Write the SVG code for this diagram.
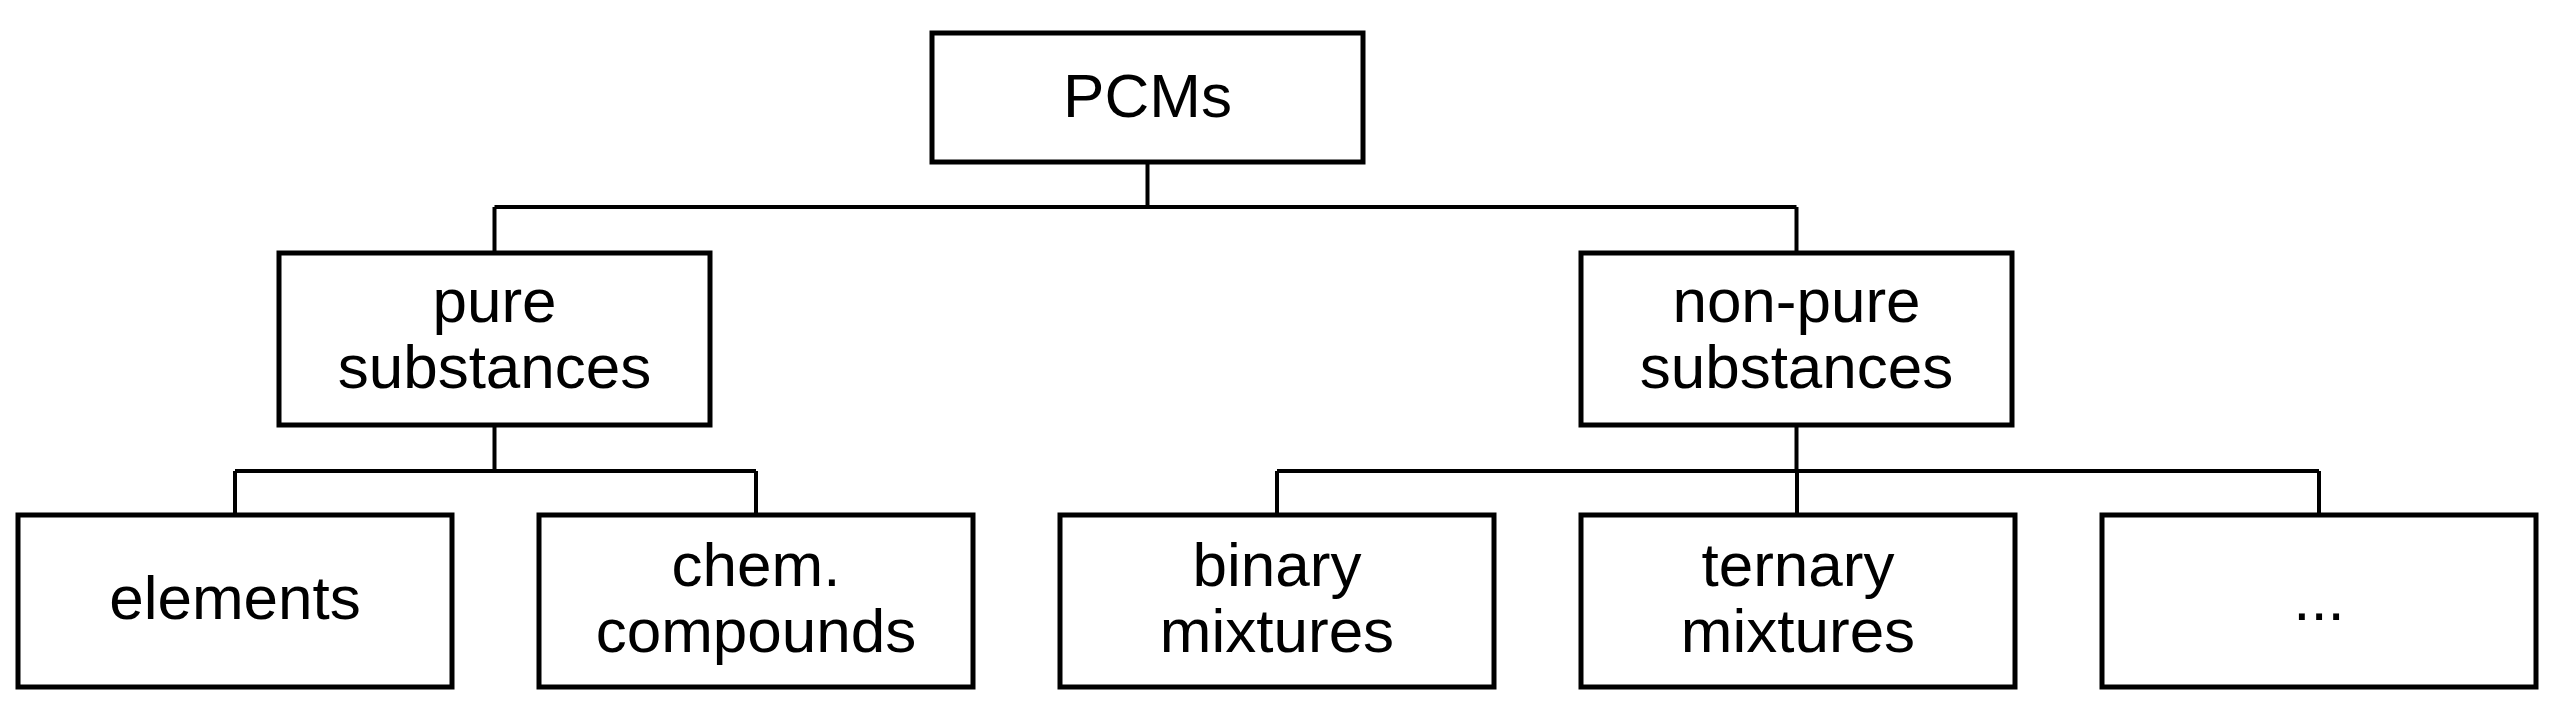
<svg xmlns="http://www.w3.org/2000/svg" width="2557" height="717" viewBox="0 0 2557 717">
<style>
.box{fill:#fff;stroke:#000;stroke-width:5}
.con{fill:none;stroke:#000;stroke-width:4}
text{font-family:"Liberation Sans",Arial,sans-serif;font-size:62px;fill:#000;text-anchor:middle}
</style>
<rect width="2557" height="717" fill="#fff"/>
<g id="connectors">
<path class="con" d="M1147.5 162 V207 M494.5 207 H1796.5 M494.5 207 V253 M1796.5 207 V253"/>
<path class="con" d="M494.5 425 V471 M235 471 H756 M235 471 V515 M756 471 V515"/>
<path class="con" d="M1796.5 425 V471 M1277 471 H2319 M1277 471 V515 M1797 471 V515 M2319 471 V515"/>
</g>
<g id="pcms"><rect class="box" x="932" y="33" width="431" height="129"/><text x="1147.5" y="117">PCMs</text></g>
<g id="pure"><rect class="box" x="279" y="253" width="431" height="172"/><text x="494.5" y="322">pure</text><text x="494.5" y="388">substances</text></g>
<g id="nonpure"><rect class="box" x="1581" y="253" width="431" height="172"/><text x="1796.5" y="322">non-pure</text><text x="1796.5" y="388">substances</text></g>
<g id="elements"><rect class="box" x="18" y="515" width="434" height="172"/><text x="235" y="619">elements</text></g>
<g id="chem"><rect class="box" x="539" y="515" width="434" height="172"/><text x="756" y="586">chem.</text><text x="756" y="652">compounds</text></g>
<g id="binary"><rect class="box" x="1060" y="515" width="434" height="172"/><text x="1277" y="586">binary</text><text x="1277" y="652">mixtures</text></g>
<g id="ternary"><rect class="box" x="1581" y="515" width="434" height="172"/><text x="1798" y="586">ternary</text><text x="1798" y="652">mixtures</text></g>
<g id="more"><rect class="box" x="2102" y="515" width="434" height="172"/><text x="2319" y="620">...</text></g>
</svg>
